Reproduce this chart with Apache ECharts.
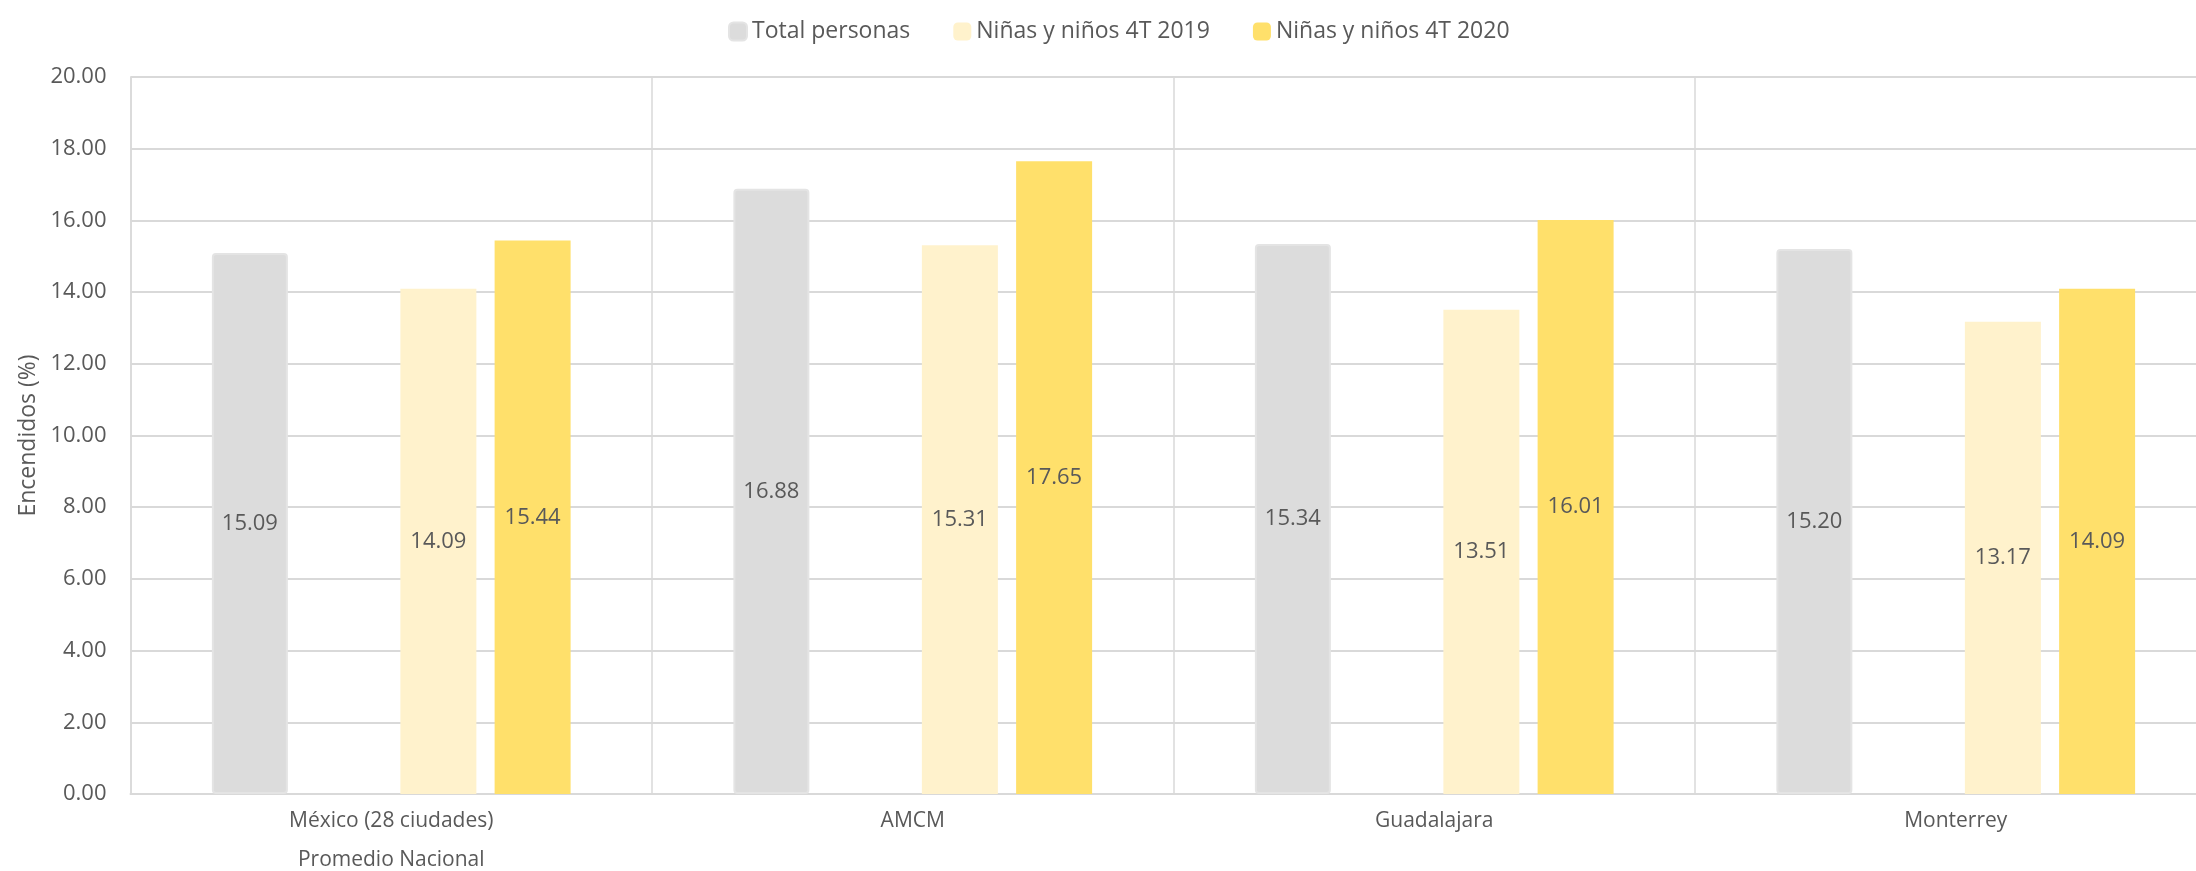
<!DOCTYPE html>
<html>
<head>
<meta charset="utf-8">
<script src="https://cdn.jsdelivr.net/npm/echarts@6/dist/echarts.min.js"></script>
<style>
html,body{margin:0;padding:0;background:#fff;}
#chart{width:2196px;height:871px;}
</style>
</head>
<body>
<div id="chart"></div>
<script>
const categories = ['México (28 ciudades)\nPromedio Nacional', 'AMCM', 'Guadalajara', 'Monterrey'];
const seriesNames = ['Total personas', 'Niñas y niños 4T 2019', 'Niñas y niños 4T 2020'];
const totalPersonas = [15.09, 16.88, 15.34, 15.20];
const blankSlot = [null, null, null, null];
const ninos2019 = [14.09, 15.31, 13.51, 13.17];
const ninos2020 = [15.44, 17.65, 16.01, 14.09];
const yTicks = { min: 0, max: 20, interval: 2 };

const FONT = 'Open Sans';
const TXT = '#595959';
const GRID = '#D9D9D9';

const chart = echarts.init(document.getElementById('chart'), null, { renderer: 'canvas' });

const labelCfg = {
  show: true,
  position: 'inside',
  color: TXT,
  fontFamily: FONT,
  fontSize: 22,
  formatter: p => (p.value == null ? '' : Number(p.value).toFixed(2))
};

chart.setOption({
  animation: false,
  backgroundColor: '#ffffff',
  textStyle: { fontFamily: FONT },
  legend: {
    data: seriesNames,
    left: 723,
    top: 15,
    itemWidth: 18,
    itemHeight: 18,
    itemGap: 43,
    icon: 'roundRect',
    textStyle: { color: TXT, fontSize: 23, fontFamily: FONT }
  },
  grid: { left: 130.5, width: 2086, top: 77, bottom: 77, containLabel: false, outerBoundsMode: 'none' },
  xAxis: {
    type: 'category',
    data: categories,
    axisLine: { show: true, lineStyle: { color: GRID, width: 2 } },
    axisTick: { show: false },
    splitLine: { show: true, lineStyle: { color: GRID, width: 1.5 } },
    axisLabel: {
      color: TXT, fontSize: 21, fontFamily: FONT, lineHeight: 39, margin: 8, interval: 0
    }
  },
  yAxis: {
    type: 'value',
    min: yTicks.min, max: yTicks.max, interval: yTicks.interval,
    name: 'Encendidos (%)',
    nameLocation: 'middle',
    nameRotate: 90,
    nameGap: 90,
    nameTextStyle: { color: TXT, fontSize: 23, fontFamily: FONT },
    axisLine: { show: true, lineStyle: { color: GRID, width: 1.5 } },
    axisTick: { show: false },
    splitLine: { show: true, lineStyle: { color: GRID, width: 2 } },
    axisLabel: {
      color: TXT, fontSize: 22, fontFamily: FONT, margin: 24,
      formatter: v => v.toFixed(2)
    }
  },
  series: [
    {
      name: seriesNames[0], type: 'bar', data: totalPersonas,
      barWidth: 76, barGap: '24%',
      itemStyle: { color: '#DCDCDC', borderColor: '#E4E4E4', borderWidth: 2, borderRadius: 3 },
      label: labelCfg
    },
    {
      name: '', type: 'bar', data: blankSlot,
      barWidth: 76, barGap: '24%',
      itemStyle: { color: 'rgba(0,0,0,0)' }
    },
    {
      name: seriesNames[1], type: 'bar', data: ninos2019,
      barWidth: 76, barGap: '24%',
      itemStyle: { color: '#FFF2CC' },
      label: labelCfg
    },
    {
      name: seriesNames[2], type: 'bar', data: ninos2020,
      barWidth: 76, barGap: '24%',
      itemStyle: { color: '#FFE06B' },
      label: labelCfg
    }
  ]
});
</script>
</body>
</html>
